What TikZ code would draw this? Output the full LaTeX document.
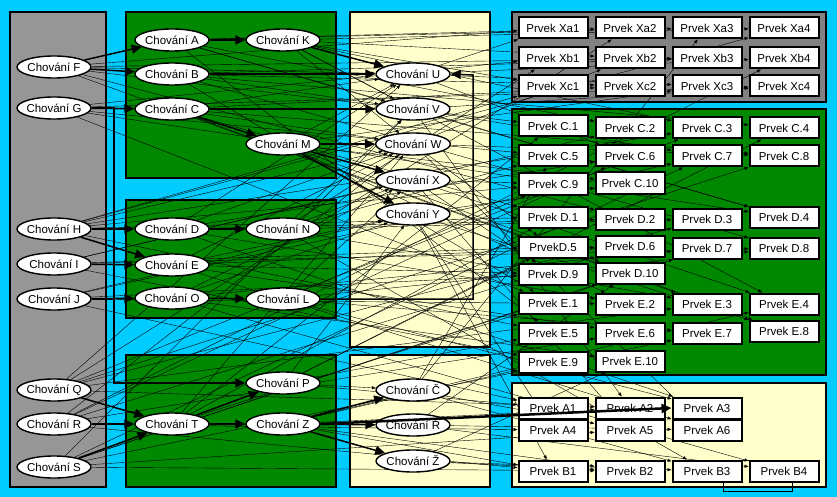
\documentclass[tikz,border=0pt]{standalone}
\usepackage{fontspec}
\setmainfont{Liberation Sans}
\usetikzlibrary{arrows.meta,shapes.geometric}
\pgfdeclarelayer{panels}
\pgfdeclarelayer{links}
\pgfsetlayers{panels,links,main}
\definecolor{skyback}{RGB}{0,204,255}
\definecolor{panelgray}{RGB}{150,150,150}
\definecolor{boxgray}{RGB}{130,130,130}
\definecolor{panelgreen}{RGB}{0,136,0}
\definecolor{paneyellow}{RGB}{255,255,204}

\begin{document}
\begin{tikzpicture}[x=1pt,y=-1pt]
\tikzstyle{every node}+=[inner sep=0pt,font=\fontsize{11.5}{13}\selectfont]
\tikzstyle{beh}=[ellipse,draw=black,line width=1.4pt,fill=white,inner xsep=-2pt,minimum width=74pt,minimum height=22pt]
\tikzstyle{elem}=[rectangle,draw=black,line width=2pt,fill=white,minimum width=69pt,minimum height=21pt]
\tikzstyle{panel}=[draw=black,line width=2.5pt]
\tikzstyle{flow}=[line width=1.5pt,-{Triangle[length=10pt,width=9pt]}]
\tikzstyle{link}=[line width=0.4pt,-{Triangle[length=4pt,width=3pt]}]

% background and panels
\begin{pgfonlayer}{panels}
\fill [skyback] (0,0) rectangle (837,497);
\draw [panel,fill=panelgray] (10,12) rectangle (106,487);
\draw [panel,fill=panelgreen] (126,12) rectangle (336,178);
\draw [panel,fill=panelgreen] (126,200) rectangle (336,318);
\draw [panel,fill=panelgreen] (126,355) rectangle (336,487);
\draw [panel,fill=paneyellow] (350,12) rectangle (490,347);
\draw [panel,fill=paneyellow] (350,355) rectangle (490,487);
\draw [panel,fill=boxgray] (512,12) rectangle (826,102);
\draw [panel,fill=panelgreen] (512,109) rectangle (826,375);
\draw [panel,fill=paneyellow] (512,383) rectangle (826,487);
\end{pgfonlayer}

% behaviours
\node [beh] (chF) at (54,67) {Chování F};
\node [beh] (chG) at (54,108) {Chování G};
\node [beh] (chH) at (54,229) {Chování H};
\node [beh] (chI) at (54,264) {Chování I};
\node [beh] (chJ) at (54,299) {Chování J};
\node [beh] (chQ) at (54,390) {Chování Q};
\node [beh] (chR) at (54,424) {Chování R};
\node [beh] (chS) at (54,467) {Chování S};
\node [beh] (chA) at (172,40) {Chování A};
\node [beh] (chK) at (283,40) {Chování K};
\node [beh] (chB) at (172,74) {Chování B};
\node [beh] (chC) at (172,109) {Chování C};
\node [beh] (chM) at (283,144) {Chování M};
\node [beh] (chD) at (172,229) {Chování D};
\node [beh] (chN) at (283,229) {Chování N};
\node [beh] (chE) at (172,265) {Chování E};
\node [beh] (chO) at (172,298) {Chování O};
\node [beh] (chL) at (283,299) {Chování L};
\node [beh] (chP) at (283,383) {Chování P};
\node [beh] (chT) at (172,424) {Chování T};
\node [beh] (chZ) at (283,424) {Chování Z};
\node [beh] (chU) at (413,74) {Chování U};
\node [beh] (chV) at (413,109) {Chování V};
\node [beh] (chW) at (413,144) {Chování W};
\node [beh] (chX) at (413,180) {Chování X};
\node [beh] (chY) at (413,214) {Chování Y};
\node [beh] (chCc) at (413,390) {Chování Č};
\node [beh] (chRr) at (413,425) {Chování Ř};
\node [beh] (chZz) at (413,461) {Chování Ž};

% elements
\foreach \n/\x in {1/553,2/630,3/707,4/784} {
  \node [elem] (pXa\n) at (\x,28) {Prvek Xa\n};
  \node [elem] (pXb\n) at (\x,58) {Prvek Xb\n};
  \node [elem] (pXc\n) at (\x,86) {Prvek Xc\n};
  \node [elem] (pB\n) at (\x,471) {Prvek B\n};
}
\foreach \n/\x/\y in {1/553/126,2/630/128,3/707/128,4/784/128,5/553/156,6/630/156,
    7/707/156,8/784/156,9/553/184,10/630/183}
  \node [elem] (pC\n) at (\x,\y) {Prvek C.\n};
\foreach \n/\x/\y in {1/553/217,2/630/219,3/707/219,4/784/217,6/630/246,
    7/707/248,8/784/248,9/553/274,10/630/273}
  \node [elem] (pD\n) at (\x,\y) {Prvek D.\n};
\node [elem] (pD5) at (553,247) {PrvekD.5};
\foreach \n/\x/\y in {1/553/303,2/630/304,3/707/304,4/784/304,5/553/333,6/630/333,
    7/707/333,8/784/331,9/553/362,10/630/361}
  \node [elem] (pE\n) at (\x,\y) {Prvek E.\n};
\foreach \n/\x/\y in {1/553/408,2/630/408,3/707/408,4/553/430,5/630/430,6/707/430}
  \node [elem] (pA\n) at (\x,\y) {Prvek A\n};

\begin{pgfonlayer}{links}
% thin links
\foreach \s/\tl in {chF/{pXa1,pC1,chU,pD2,pXb3,pE3},chG/{pXb1,pC5,chV,pE1,pXc4,pD4},
    chH/{pD1,pXc1,pC9,chW,pE5,pXa4,pC3},chI/{pD5,pE9,chX,pC2,pD8},
    chJ/{pD9,pE2,chY,pA1,pC7},chQ/{pC3,pD3,pE3,pA2,pXa2,chU,pC8},
    chR/{pC6,pD6,pE6,pA4,pB1,chW,pXb4},chS/{pC7,pD7,pE7,pA5,pB2,chV,pD10},
    chA/{pXa2,pXa3,pC2,pD4,chV,pE5},chK/{pXa4,pXb2,chV,pC3,pE4,chW,pXc1},
    chB/{pXb3,pC4,pD8,chV,pXc2,pE1},chC/{pXc2,chW,pC8,pE8,chU,pD1},
    chM/{pXc3,pC10,pD10,chU,pE2},chD/{chU,chW,pD2,pE2,pA3,pC6},
    chN/{chV,chX,pD3,pE3,pB3,pC5,pXb1},chE/{chW,pD6,pE6,pA6,chY,pD9},
    chO/{chY,pD7,pE10,pB4,chX},chL/{chX,pD8,pE7,pA3,pC9},chP/{chCc,pC4,pE5,pA1,chY,pD5},
    chT/{pC1,pD1,pE1,chRr,chW},chZ/{pB1,pB2,pE9,pA2,pE4},chU/{pXa1,pXb4,pC6,pXc3},
    chV/{pXc4,pC7,pD4,pA2},chW/{pXb2,pC8,pD5,pA6},chX/{pC9,pD9,pE4,pA5},
    chY/{pC10,pE8,pA4,pB1},chCc/{pXa3,pC5,pA5,pB3},chRr/{pD10,pA6,pB4},
    chZz/{pE10,pB2,pB3}} {
  \foreach \t in \tl
    \draw [link] (\s) -- (\t);
}
\draw [line width=0.4pt] (723,460) rectangle (792,491);

% main flows
\draw [flow] (chF) -- (chA);
\draw [flow] (chF) -- (chB);
\draw [flow] (chG) -- (chC);
\draw [flow] (chA) -- (chK);
\draw [flow] (chC) -- (chM);
\draw [flow] (chH) -- (chD);
\draw [flow] (chH) -- (chE);
\draw [flow] (chI) -- (chE);
\draw [flow] (chD) -- (chN);
\draw [flow] (chJ) -- (chO);
\draw [flow] (chO) -- (chL);
\draw [line width=1.5pt] (chG.east) -| (114,299);
\draw [flow] (chJ.east) -- (114,299) |- (chP.west);
\draw [flow] (chQ) -- (chT);
\draw [flow] (chR) -- (chT);
\draw [flow] (chS) -- (chT);
\draw [flow] (chT) -- (chP);
\draw [flow] (chT) -- (chZ);
\draw [flow] (chZ) -- (chCc);
\draw [flow] (chZ) -- (chRr);
\draw [flow] (chZ) -- (chZz);
\draw [flow] (chB) -- (chU);
\draw [flow] (chK) -- (chU);
\draw [flow] (chC) -- (chV);
\draw [flow] (chM) -- (chW);
\draw [flow] (chM) -- (chX);
\draw [flow] (chM) -- (chY);
\draw [flow] (chL.east) -| (473,75) -- (chU.east);
\end{pgfonlayer}
\draw [flow,line width=2.5pt] (chZ.east) -- (pA3.west);
\end{tikzpicture}
\end{document}
